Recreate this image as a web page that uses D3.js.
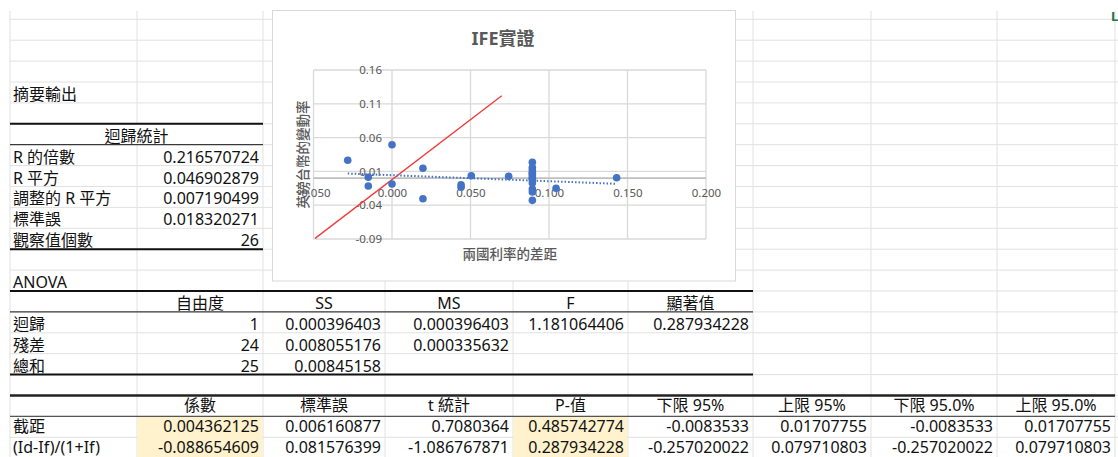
<!DOCTYPE html>
<html>
<head>
<meta charset="utf-8">
<script src="https://cdn.jsdelivr.net/npm/d3@7/dist/d3.min.js"></script>
<style>
  html, body { margin: 0; padding: 0; background: #ffffff; }
  svg { display: block; }
  .cell { font-family: "Noto Sans", "Noto Sans CJK TC", sans-serif; font-size: 16px; fill: #111; }
  .chart-text { font-family: "Noto Sans", "Noto Sans CJK TC", sans-serif; fill: #595959; }
</style>
</head>
<body>
<svg id="sheet" width="1118" height="457"></svg>
<script>
// ---------------- DATA ----------------
const summaryTitle = "摘要輸出";
const regStatTitle = "迴歸統計";
const regStatLabels = ["R 的倍數", "R 平方", "調整的 R 平方", "標準誤", "觀察值個數"];
const regStatValues = ["0.216570724", "0.046902879", "0.007190499", "0.018320271", "26"];

const anovaTitle = "ANOVA";
const anovaHeaders = ["", "自由度", "SS", "MS", "F", "顯著值"];
const anovaLabels = ["迴歸", "殘差", "總和"];
const anovaDf = ["1", "24", "25"];
const anovaSS = ["0.000396403", "0.008055176", "0.00845158"];
const anovaMS = ["0.000396403", "0.000335632", ""];
const anovaF = ["1.181064406", "", ""];
const anovaSig = ["0.287934228", "", ""];

const coefHeaders = ["", "係數", "標準誤", "t 統計", "P-值", "下限 95%", "上限 95%", "下限 95.0%", "上限 95.0%"];
const coefLabels = ["截距", "(Id-If)/(1+If)"];
const coefValues = [0.004362125, -0.088654609];
const coefText = ["0.004362125", "-0.088654609"];
const coefSE = ["0.006160877", "0.081576399"];
const coefT = ["0.7080364", "-1.086767871"];
const coefP = ["0.485742774", "0.287934228"];
const coefLow95 = ["-0.0083533", "-0.257020022"];
const coefUp95 = ["0.01707755", "0.079710803"];
const coefLow950 = ["-0.0083533", "-0.257020022"];
const coefUp950 = ["0.01707755", "0.079710803"];

// chart
const chartTitle = "IFE實證";
const xTitle = "兩國利率的差距";
const yTitle = "英鎊台幣的變動率";
const xTicks = [-0.05, 0, 0.05, 0.1, 0.15, 0.2];
const yTicks = [-0.09, -0.04, 0.01, 0.06, 0.11, 0.16];
const rateDiff = [-0.0282, -0.0151, -0.0151, 0.0000, 0.0000, 0.0197, 0.0197, 0.0440, 0.0440, 0.0505, 0.0743,
  0.0894, 0.0894, 0.0894, 0.0894, 0.0894, 0.0894, 0.0894, 0.0894, 0.0894, 0.0894, 0.0894, 0.0894, 0.0894,
  0.1045, 0.1431];
const fxChange = [0.0264, 0.0013, -0.0116, 0.0495, -0.0086, 0.0146, -0.0304, -0.0097, -0.0135, 0.0036, 0.0027,
  0.0235, 0.0158, 0.0121, 0.0084, 0.0065, 0.0047, 0.0010, -0.0010, -0.0027, -0.0072, -0.0160, -0.0205, -0.0328,
  -0.0150, 0.0007];
const redLineX = [-0.049, 0.0699];
const redLineY = [-0.089, 0.122];

// ---------------- LAYOUT ----------------
const svg = d3.select("#sheet");
const colEdges = [10, 137, 263, 385, 513, 628, 753, 871, 997, 1115];
const rowLine = k => 19.3 + 20.9 * k;
const gridTop = 11, sheetRight = 1118;

// grid lines
const g = svg.append("g");
d3.range(0, 22).forEach(k => {
  g.append("line").attr("x1", colEdges[0]).attr("x2", sheetRight)
    .attr("y1", rowLine(k)).attr("y2", rowLine(k))
    .attr("stroke", "#e1e1e1").attr("stroke-width", 1);
});
colEdges.forEach((x, i) => {
  if (i === 1) {
    g.append("line").attr("x1", x).attr("x2", x).attr("y1", gridTop).attr("y2", rowLine(5)).attr("stroke", "#e1e1e1");
    g.append("line").attr("x1", x).attr("x2", x).attr("y1", rowLine(6)).attr("y2", 457).attr("stroke", "#e1e1e1");
  } else {
    g.append("line").attr("x1", x).attr("x2", x).attr("y1", gridTop).attr("y2", 457).attr("stroke", "#e1e1e1");
  }
});

// fills (orange)
[1, 4].forEach(c => {
  g.append("rect").attr("x", colEdges[c] + 0.5).attr("y", rowLine(19) + 0.5)
    .attr("width", colEdges[c + 1] - colEdges[c] - 1).attr("height", rowLine(21) - rowLine(19))
    .attr("fill", "#fff2cc");
});

// borders
function hline(k, c0, c1, w, color) {
  g.append("line").attr("x1", colEdges[c0]).attr("x2", colEdges[c1])
    .attr("y1", rowLine(k)).attr("y2", rowLine(k)).attr("stroke", color).attr("stroke-width", w);
}
hline(5, 0, 2, 2, "#111");
hline(6, 0, 2, 1, "#111");
hline(11, 0, 2, 2, "#111");
hline(13, 0, 6, 2, "#111");
hline(14, 0, 6, 1, "#111");
hline(17, 0, 6, 2, "#111");
hline(18, 0, 9, 2.5, "#222");
hline(19, 0, 9, 1.2, "#555");

// cell text helper (coefficient table nudged up so the bottom row stays inside the window)
function cell(row, col, txt, align, colSpan) {
  if (txt === "" || txt == null) return;
  const c1 = col + (colSpan || 1);
  const x0 = colEdges[col], x1 = colEdges[c1];
  const base = rowLine(row + 1) - (row >= 18 ? 5.2 : 3);
  let x, anchor;
  if (align === "left") { x = x0 + 3; anchor = "start"; }
  else if (align === "right") { x = x1 - 4; anchor = "end"; }
  else { x = (x0 + x1) / 2; anchor = "middle"; }
  g.append("text").attr("class", "cell").attr("x", x).attr("y", base)
    .attr("text-anchor", anchor).text(txt);
}

cell(3, 0, summaryTitle, "left");
cell(5, 0, regStatTitle, "center", 2);
regStatLabels.forEach((t, i) => { cell(6 + i, 0, t, "left"); cell(6 + i, 1, regStatValues[i], "right"); });

cell(12, 0, anovaTitle, "left");
anovaHeaders.forEach((t, i) => cell(13, i, t, "center"));
anovaLabels.forEach((t, i) => {
  cell(14 + i, 0, t, "left");
  cell(14 + i, 1, anovaDf[i], "right");
  cell(14 + i, 2, anovaSS[i], "right");
  cell(14 + i, 3, anovaMS[i], "right");
  cell(14 + i, 4, anovaF[i], "right");
  cell(14 + i, 5, anovaSig[i], "right");
});

coefHeaders.forEach((t, i) => cell(18, i, t, "center"));
coefLabels.forEach((t, i) => {
  const vals = [coefText[i], coefSE[i], coefT[i], coefP[i], coefLow95[i], coefUp95[i], coefLow950[i], coefUp950[i]];
  cell(19 + i, 0, t, "left");
  vals.forEach((v, j) => cell(19 + i, j + 1, v, "right"));
});

// green corner mark
svg.append("text").attr("x", 1111).attr("y", 21).attr("fill", "#217346")
  .attr("font-family", "Noto Sans, sans-serif").attr("font-weight", "bold").attr("font-size", 13).text("L");

// ---------------- CHART ----------------
const ch = svg.append("g");
ch.append("rect").attr("x", 272.5).attr("y", 10.5).attr("width", 463).attr("height", 270.5)
  .attr("fill", "#ffffff").attr("stroke", "#d9d9d9").attr("stroke-width", 1);

const x = d3.scaleLinear().domain([-0.05, 0.2]).range([313.5, 706]);
const y = d3.scaleLinear().domain([-0.09, 0.16]).range([239, 70]);

// gridlines
ch.append("g").selectAll("line").data(yTicks).join("line")
  .attr("x1", x(-0.05)).attr("x2", x(0.2)).attr("y1", d => y(d)).attr("y2", d => y(d))
  .attr("stroke", "#d9d9d9").attr("stroke-width", 1.3);
ch.append("g").selectAll("line").data(xTicks).join("line")
  .attr("x1", d => x(d)).attr("x2", d => x(d)).attr("y1", y(0.16)).attr("y2", y(-0.09))
  .attr("stroke", "#d9d9d9").attr("stroke-width", 1.3);

// horizontal axis line at y = 0
ch.append("line").attr("x1", x(-0.05)).attr("x2", x(0.2)).attr("y1", y(0)).attr("y2", y(0))
  .attr("stroke", "#bfbfbf").attr("stroke-width", 1.8);

// axes labels
const xAxis = d3.axisBottom(x).tickValues(xTicks).tickSize(0).tickPadding(11);
const xa = ch.append("g").attr("transform", `translate(0,${y(0)})`).call(xAxis);
const yAxis = d3.axisLeft(y).tickValues(yTicks).tickSize(0).tickPadding(10);
const ya = ch.append("g").attr("transform", `translate(${x(0)},0)`).call(yAxis);
[xa, ya].forEach(a => {
  a.select(".domain").remove();
  a.selectAll("text").attr("class", "chart-text").attr("fill", "#595959")
    .style("font-size", "11.5px").style("font-family", "'Noto Sans', sans-serif");
});
xa.selectAll("text").text(d => d3.format(".3f")(d).replace("−", "-"));
ya.selectAll("text").text(d => d3.format(".2f")(d).replace("−", "-"));

// red line
const redPts = redLineX.map((v, i) => [v, redLineY[i]]);
ch.append("path").attr("d", d3.line().x(d => x(d[0])).y(d => y(d[1]))(redPts))
  .attr("stroke", "#f23c3c").attr("stroke-width", 1.4).attr("fill", "none");

// trendline from regression coefficients
const xe = d3.extent(rateDiff);
const trend = xe.map(v => [v, coefValues[0] + coefValues[1] * v]);
ch.append("path").attr("d", d3.line().x(d => x(d[0])).y(d => y(d[1]))(trend))
  .attr("stroke", "#4472c4").attr("stroke-width", 2).attr("stroke-dasharray", "1.5,2")
  .attr("fill", "none");

// points
ch.append("g").selectAll("circle").data(rateDiff.map((v, i) => [v, fxChange[i]])).join("circle")
  .attr("cx", d => x(d[0])).attr("cy", d => y(d[1])).attr("r", 3.8).attr("fill", "#4472c4");

// titles
ch.append("text").attr("class", "chart-text").attr("x", 503).attr("y", 45)
  .attr("text-anchor", "middle").style("font-size", "18px").style("font-weight", "bold").text(chartTitle);
ch.append("text").attr("class", "chart-text").attr("x", (x(-0.05) + x(0.2)) / 2).attr("y", 259)
  .attr("text-anchor", "middle").style("font-size", "13.5px").style("font-weight", "500").text(xTitle);
ch.append("text").attr("class", "chart-text")
  .attr("transform", `translate(308,${(y(0.16) + y(-0.09)) / 2}) rotate(-90)`)
  .attr("text-anchor", "middle").style("font-size", "13.5px").style("font-weight", "500").text(yTitle);
</script>
</body>
</html>
